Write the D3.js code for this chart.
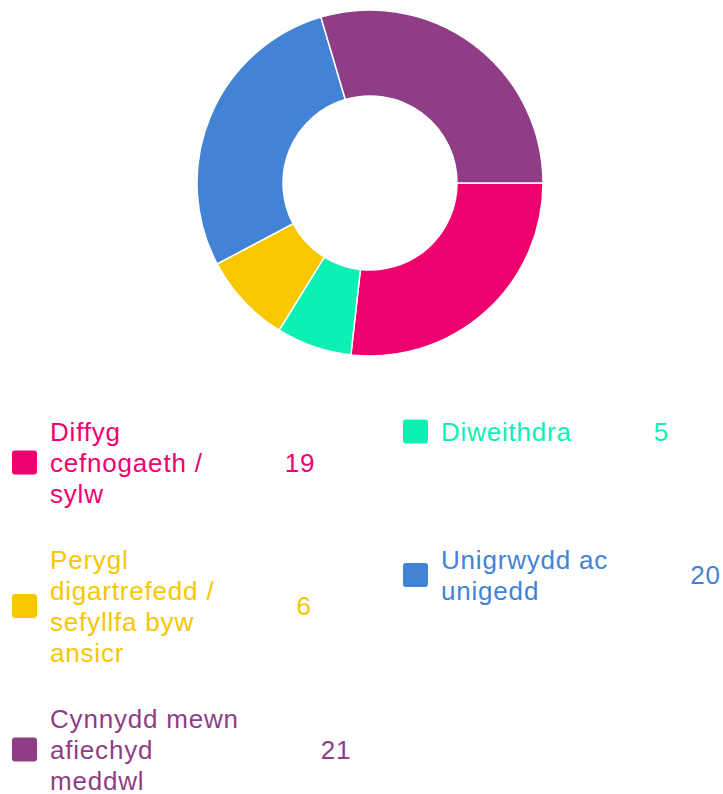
<!DOCTYPE html>
<html>
<head>
<meta charset="utf-8">
<script src="https://cdn.jsdelivr.net/npm/d3@7"></script>
<style>
  html, body { margin: 0; padding: 0; background: #fff; }
  svg { display: block; }
  text { font-family: "Liberation Sans", Arial, sans-serif; }
</style>
</head>
<body>
<div class="container"></div>
<script>
const WIDTH = 723;
const HEIGHT = 794;
const CX = 370, CY = 183;
const OUTER = 173, INNER = 87;
const FONT = 26;
const LINE_H = 31;
const ROW_GAP = 35;
const LEGEND_TOP = 416;
const COL_X = [12, 403];
const WRAP = 205;
const VALUE_GAP = 82;

var categories = [
    "Diffyg cefnogaeth / sylw",
    "Diweithdra",
    "Perygl digartrefedd / sefyllfa byw ansicr",
    "Unigrwydd ac unigedd",
    "Cynnydd mewn afiechyd meddwl"
];
var values = [19, 5, 6, 20, 21];
var colours = ["#f0006e", "#0cf0b4", "#f7c700", "#4283d6", "#8f3e86"];

var svg = d3.select('.container').append('svg')
    .attr('width', WIDTH)
    .attr('height', HEIGHT);

// donut
var pie = d3.pie()
    .sort(null)
    .startAngle(Math.PI / 2)
    .endAngle(Math.PI / 2 + 2 * Math.PI);
var arc = d3.arc().innerRadius(INNER).outerRadius(OUTER);

svg.append('g')
    .attr('transform', 'translate(' + CX + ',' + CY + ')')
    .selectAll('path')
    .data(pie(values))
    .enter()
    .append('path')
    .attr('d', arc)
    .attr('fill', function(d, i) { return colours[i]; })
    .attr('stroke', '#fff')
    .attr('stroke-width', 1.5);

// word wrap using a hidden measuring text
var measure = svg.append('text').attr('font-size', FONT)
    .attr('letter-spacing', 0.8).attr('visibility', 'hidden');
function textWidth(s) {
    measure.text(s);
    return measure.node().getComputedTextLength();
}
function wrap(label) {
    var words = label.split(' '), lines = [], cur = '';
    words.forEach(function(w) {
        var test = cur ? cur + ' ' + w : w;
        if (cur && textWidth(test) > WRAP) {
            lines.push(cur);
            cur = w;
        } else {
            cur = test;
        }
    });
    lines.push(cur);
    return lines;
}

var items = categories.map(function(c, i) {
    return { label: c, value: values[i], colour: colours[i], lines: wrap(c) };
});

// legend in 2 columns, rows aligned to tallest item
var legend = svg.append('g');
var rowTop = LEGEND_TOP;
for (var r = 0; r < items.length; r += 2) {
    var row = items.slice(r, r + 2);
    var rowLines = d3.max(row, function(d) { return d.lines.length; });
    row.forEach(function(d, c) {
        var x0 = COL_X[c];
        var h = d.lines.length * LINE_H;
        var mid = rowTop + h / 2;
        var g = legend.append('g').attr('fill', d.colour);
        g.append('rect')
            .attr('x', x0).attr('y', mid - 12)
            .attr('width', 25).attr('height', 24)
            .attr('rx', 3);
        var t = g.append('text')
            .attr('font-size', FONT)
            .attr('letter-spacing', 0.8);
        d.lines.forEach(function(line, k) {
            t.append('tspan')
                .attr('x', x0 + 38)
                .attr('y', rowTop + LINE_H * k + LINE_H / 2 + 9)
                .text(line);
        });
        var maxW = t.node().getBBox().width;
        g.append('text')
            .attr('font-size', FONT)
            .attr('letter-spacing', 0.8)
            .attr('x', x0 + 38 + maxW + VALUE_GAP)
            .attr('y', mid + 9)
            .text(d.value);
    });
    rowTop += rowLines * LINE_H + ROW_GAP;
}
measure.remove();
</script>
</body>
</html>
